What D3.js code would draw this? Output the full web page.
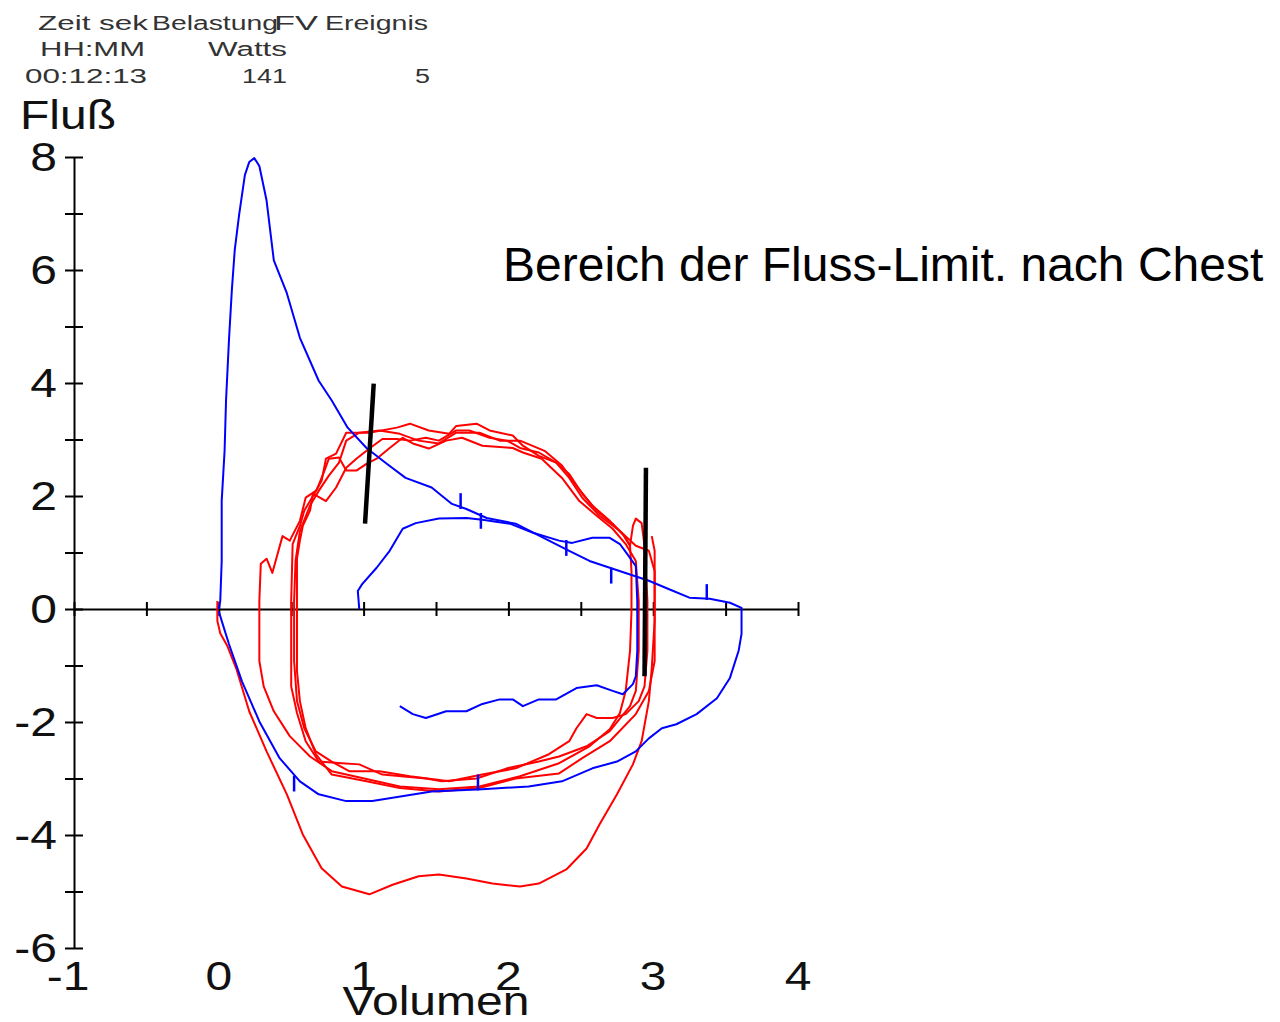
<!DOCTYPE html>
<html>
<head>
<meta charset="utf-8">
<script src="https://cdn.jsdelivr.net/npm/d3@7"></script>
<style>
  body { margin: 0; background: #fff; }
  text { font-family: "Liberation Sans", Arial, sans-serif; }
</style>
</head>
<body>
<div class="canvas"></div>
<script>
// axis ticks and labels
const volTicks = [-1, -0.5, 0, 0.5, 1, 1.5, 2, 2.5, 3, 3.5, 4];
const volLabels = [-1, 0, 1, 2, 3, 4];
const flowTicks = [-6, -5, -4, -3, -2, -1, 0, 1, 2, 3, 4, 5, 6, 7, 8];
const flowLabels = [-6, -4, -2, 0, 2, 4, 6, 8];

// header table (exercise test data)
const headerRow1 = ['Zeit sek', 'Belastung', 'FV', 'Ereignis'];
const headerRow2 = ['HH:MM', 'Watts'];
const headerRow3 = ['00:12:13', '141', '5'];

// maximal flow-volume loop (volume, flow)
const maxLoop = [
  [0.00, 0.00], [0.01, 0.14], [0.02, 0.85], [0.02, 1.91], [0.04, 2.80], [0.05, 3.69],
  [0.07, 4.75], [0.09, 5.64], [0.11, 6.35], [0.14, 6.97], [0.18, 7.68], [0.21, 7.91],
  [0.245, 7.98], [0.28, 7.84], [0.33, 7.23], [0.38, 6.17], [0.47, 5.59], [0.56, 4.80],
  [0.69, 4.04], [0.78, 3.69], [0.89, 3.21], [1.02, 2.85], [1.16, 2.57], [1.29, 2.32],
  [1.47, 2.15], [1.61, 1.86], [1.71, 1.77], [1.85, 1.61], [2.05, 1.51], [2.28, 1.21],
  [2.42, 1.03], [2.56, 0.85], [2.70, 0.73], [2.83, 0.62], [2.97, 0.50], [3.11, 0.35],
  [3.25, 0.20], [3.39, 0.18], [3.53, 0.11], [3.61, 0.02], [3.61, -0.44], [3.59, -0.74],
  [3.53, -1.22], [3.44, -1.58], [3.30, -1.86], [3.16, -2.04], [3.06, -2.11], [2.97, -2.29],
  [2.88, -2.52], [2.75, -2.70], [2.58, -2.82], [2.37, -3.05], [2.14, -3.14], [1.82, -3.19],
  [1.47, -3.23], [1.06, -3.40], [0.88, -3.40], [0.69, -3.28], [0.56, -3.05], [0.42, -2.64],
  [0.28, -1.99], [0.16, -1.28], [0.07, -0.62], [0.02, -0.21], [0.00, -0.04]
];

// resting tidal loop
const restLoop = [
  [0.97, 0.00], [0.96, 0.32], [0.99, 0.44], [1.09, 0.73], [1.18, 1.03], [1.27, 1.42],
  [1.36, 1.52], [1.52, 1.60], [1.71, 1.61], [1.82, 1.58], [2.01, 1.51], [2.17, 1.35],
  [2.35, 1.21], [2.44, 1.17], [2.58, 1.26], [2.70, 1.26], [2.77, 1.15], [2.83, 0.94],
  [2.88, 0.76], [2.89, 0.14], [2.89, -0.74], [2.88, -1.19], [2.86, -1.33], [2.79, -1.51],
  [2.72, -1.45], [2.61, -1.35], [2.47, -1.40], [2.33, -1.60], [2.21, -1.60], [2.10, -1.72],
  [2.03, -1.60], [1.94, -1.60], [1.82, -1.68], [1.71, -1.81], [1.57, -1.81], [1.43, -1.93],
  [1.34, -1.86], [1.25, -1.72]
];

// event markers on the blue curves
const markers = [
  [1.67, 1.91], [1.81, 1.56], [2.40, 1.08], [2.71, 0.59], [3.37, 0.30],
  [0.52, -3.09], [1.79, -3.07]
];

// exercise tidal loops
const exBig = [
  [-0.01, 0.14], [-0.01, -0.21], [0.01, -0.43], [0.06, -0.66], [0.12, -1.05], [0.21, -1.81],
  [0.33, -2.52], [0.47, -3.28], [0.58, -3.99], [0.71, -4.59], [0.85, -4.91], [1.04, -5.05],
  [1.20, -4.88], [1.38, -4.73], [1.52, -4.70], [1.71, -4.77], [1.89, -4.86], [2.08, -4.91],
  [2.21, -4.86], [2.40, -4.61], [2.54, -4.24], [2.63, -3.81], [2.75, -3.28], [2.86, -2.75],
  [2.92, -2.34], [2.97, -1.63], [2.99, -1.05], [3.01, -0.21], [3.01, 0.50], [3.01, 1.03],
  [2.99, 1.29]
];
const ex1 = [
  [0.28, -0.74], [0.28, 0.14], [0.29, 0.80], [0.33, 0.89], [0.37, 0.64], [0.44, 1.29],
  [0.49, 1.21], [0.56, 1.56], [0.60, 1.97], [0.67, 2.09], [0.71, 2.27], [0.74, 2.66],
  [0.81, 2.75], [0.88, 3.12], [1.04, 3.12], [1.23, 3.21], [1.32, 3.28], [1.45, 3.16],
  [1.59, 3.10], [1.64, 3.24], [1.78, 3.28], [1.87, 3.16], [2.03, 3.07], [2.10, 2.89],
  [2.21, 2.71], [2.33, 2.59], [2.42, 2.39], [2.51, 2.04], [2.61, 1.74], [2.72, 1.51],
  [2.79, 1.33], [2.84, 1.12], [2.85, 0.67], [2.85, -0.04], [2.84, -0.74], [2.81, -1.45],
  [2.77, -1.84], [2.70, -2.13], [2.56, -2.43], [2.35, -2.73], [2.08, -2.96], [1.80, -3.14],
  [1.52, -3.19], [1.25, -3.14], [1.02, -3.01], [0.78, -2.87], [0.63, -2.61], [0.49, -2.25],
  [0.38, -1.81], [0.31, -1.37], [0.28, -0.92], [0.28, -0.74]
];
const ex2 = [
  [0.50, -0.92], [0.50, 0.14], [0.51, 1.15], [0.56, 1.47], [0.59, 1.74], [0.63, 1.91],
  [0.68, 2.13], [0.73, 2.45], [0.76, 2.66], [0.83, 2.68], [0.88, 2.45], [0.95, 2.45],
  [1.02, 2.57], [1.09, 2.66], [1.18, 2.85], [1.27, 3.03], [1.34, 2.93], [1.45, 2.84],
  [1.57, 2.98], [1.68, 3.03], [1.82, 2.89], [2.03, 2.85], [2.10, 2.77], [2.23, 2.66],
  [2.37, 2.32], [2.49, 1.91], [2.61, 1.65], [2.72, 1.42], [2.81, 1.15], [2.88, 0.85],
  [2.90, 0.14], [2.90, -0.74], [2.88, -1.45], [2.84, -1.72], [2.70, -2.16], [2.54, -2.43],
  [2.35, -2.61], [2.21, -2.70], [1.99, -2.82], [1.78, -3.00], [1.54, -3.05], [1.43, -3.00],
  [1.13, -2.93], [0.97, -2.75], [0.85, -2.73], [0.69, -2.70], [0.60, -2.34], [0.54, -1.84],
  [0.50, -1.37], [0.50, -0.92]
];
const ex3 = [
  [0.54, -1.10], [0.54, 0.14], [0.54, 0.89], [0.56, 1.21], [0.58, 1.47], [0.63, 1.74],
  [0.65, 2.04], [0.74, 1.91], [0.81, 2.15], [0.88, 2.50], [0.95, 2.66], [1.04, 2.84],
  [1.13, 3.01], [1.23, 3.01], [1.32, 2.98], [1.43, 3.03], [1.52, 2.98], [1.64, 3.16],
  [1.73, 3.16], [1.87, 3.03], [1.99, 2.98], [2.08, 2.85], [2.21, 2.77], [2.33, 2.59],
  [2.42, 2.32], [2.51, 1.97], [2.63, 1.65], [2.77, 1.38], [2.88, 1.12], [2.97, 1.03],
  [3.01, 0.67], [3.01, -0.04], [3.01, -0.92], [2.97, -1.45], [2.88, -1.86], [2.70, -2.34],
  [2.51, -2.64], [2.35, -2.91], [2.05, -3.00], [1.80, -3.17], [1.52, -3.23], [1.25, -3.17],
  [1.02, -3.05], [0.78, -2.93], [0.67, -2.57], [0.60, -2.11], [0.56, -1.63], [0.54, -1.10]
];
const ex4 = [
  [0.52, -0.92], [0.52, 0.14], [0.53, 0.85], [0.56, 1.38], [0.63, 1.83], [0.69, 2.09],
  [0.76, 2.36], [0.83, 2.59], [0.88, 2.98], [0.97, 3.12], [1.11, 3.16], [1.25, 3.10],
  [1.38, 2.98], [1.52, 2.93], [1.64, 3.12], [1.80, 3.12], [1.94, 2.98], [2.08, 2.98],
  [2.25, 2.80], [2.37, 2.54], [2.47, 2.18], [2.58, 1.83], [2.70, 1.56], [2.80, 1.29],
  [2.84, 1.12], [2.86, 1.47], [2.88, 1.60], [2.92, 1.52], [2.94, 1.12], [2.96, 0.14],
  [2.96, -0.74], [2.94, -1.37], [2.90, -1.63], [2.81, -1.86], [2.72, -1.93], [2.61, -1.93],
  [2.54, -1.86], [2.47, -2.11], [2.42, -2.34], [2.28, -2.57], [2.05, -2.82], [1.82, -2.93],
  [1.59, -3.05], [1.32, -2.96], [1.11, -2.87], [0.90, -2.87], [0.78, -2.70], [0.67, -2.52],
  [0.59, -2.11], [0.54, -1.63], [0.52, -0.92]
];

// hand-drawn limitation marks
const limitMarks = [
  [[1.07, 3.99], [1.01, 1.51]],
  [[2.95, 2.50], [2.94, -1.19]]
];
const noteText = 'Bereich der Fluss-Limit. nach Chest';

const svg = d3.select('.canvas')
  .append('svg')
  .attr('width', 1280)
  .attr('height', 1022);

const x = d3.scaleLinear().domain([-1, 4]).range([74, 798]);
const y = d3.scaleLinear().domain([-6, 8]).range([948, 157]);

// header
const head = svg.append('g').attr('fill', '#333').attr('font-size', 20);
const row1Pos = [[38, 110], [152, 126], [274, 44], [325, 103]];
const row2Pos = [[40, 105], [208, 79]];
const row3Pos = [[25, 122], [242, 45], [415, 15]];
const headRow = (texts, pos, base) => {
  head.selectAll(null).data(texts).enter().append('text')
    .attr('x', (d, i) => pos[i][0])
    .attr('y', base)
    .attr('textLength', (d, i) => pos[i][1])
    .attr('lengthAdjust', 'spacingAndGlyphs')
    .text(d => d);
};
headRow(headerRow1, row1Pos, 30);
headRow(headerRow2, row2Pos, 56);
headRow(headerRow3, row3Pos, 83);

// axes
const yAxis = d3.axisLeft(y).tickValues(flowTicks).tickSize(9).tickSizeOuter(0).tickFormat('');
const xAxis = d3.axisBottom(x).tickValues(volTicks).tickSize(7).tickSizeOuter(0).tickFormat('');

const yAxisGroup = svg.append('g').attr('transform', `translate(${x(-1)},0)`).call(yAxis);
yAxisGroup.selectAll('.tick line').attr('x1', 9);
const xAxisGroup = svg.append('g').attr('transform', `translate(0,${y(0)})`).call(xAxis);
xAxisGroup.selectAll('.tick line').attr('y1', -7);
svg.selectAll('.domain, .tick line').attr('stroke', '#000').attr('stroke-width', 2);

// tick labels (stretched like the original print)
const stretch = 1.2;
svg.append('g').selectAll('text')
  .data(flowLabels).enter().append('text')
  .attr('transform', d => `translate(57,${y(d) + 14}) scale(${stretch},1)`)
  .attr('text-anchor', 'end')
  .attr('font-size', 40)
  .attr('fill', '#111')
  .text(d => d);

svg.append('g').selectAll('text')
  .data(volLabels).enter().append('text')
  .attr('transform', d => `translate(${x(d) - (d < 0 ? 6 : 0)},990) scale(${stretch},1)`)
  .attr('text-anchor', 'middle')
  .attr('font-size', 40)
  .attr('fill', '#111')
  .text(d => d);

svg.append('text')
  .attr('transform', `translate(20,129) scale(${stretch},1)`)
  .attr('font-size', 40)
  .attr('fill', '#111')
  .text('Fluß');

svg.append('text')
  .attr('transform', `translate(436,1015) scale(${stretch},1)`)
  .attr('text-anchor', 'middle')
  .attr('font-size', 40)
  .attr('fill', '#111')
  .text('Volumen');

// curves
const line = d3.line().x(d => x(d[0])).y(d => y(d[1]));

svg.append('g').selectAll('path')
  .data([exBig, ex1, ex2, ex3, ex4]).enter().append('path')
  .attr('d', line)
  .attr('fill', 'none')
  .attr('stroke', '#ff0000')
  .attr('stroke-width', 2)
  .attr('stroke-linejoin', 'round');

svg.append('g').selectAll('path')
  .data([maxLoop, restLoop]).enter().append('path')
  .attr('d', line)
  .attr('fill', 'none')
  .attr('stroke', '#0000ff')
  .attr('stroke-width', 2)
  .attr('stroke-linejoin', 'round');

svg.append('g').selectAll('line')
  .data(markers).enter().append('line')
  .attr('x1', d => x(d[0])).attr('x2', d => x(d[0]))
  .attr('y1', d => y(d[1] + 0.14)).attr('y2', d => y(d[1] - 0.14))
  .attr('stroke', '#0000ff')
  .attr('stroke-width', 2.5);

// annotation
svg.append('g').selectAll('line')
  .data(limitMarks).enter().append('line')
  .attr('x1', d => x(d[0][0])).attr('y1', d => y(d[0][1]))
  .attr('x2', d => x(d[1][0])).attr('y2', d => y(d[1][1]))
  .attr('stroke', '#000')
  .attr('stroke-width', 4.5);

svg.append('text')
  .attr('x', 503)
  .attr('y', 281)
  .attr('font-size', 48)
  .attr('fill', '#000')
  .text(noteText);
</script>
</body>
</html>
